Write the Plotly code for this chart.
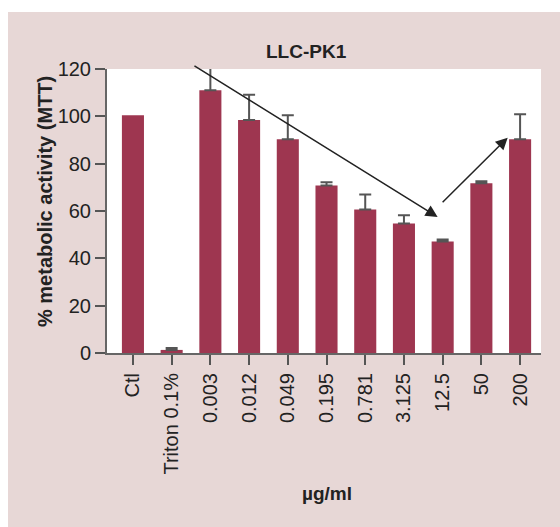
import plotly.graph_objects as go

# Concentrations tested (µg/ml) plus controls
categories = ["Ctl", "Triton 0.1%", "0.003", "0.012", "0.049", "0.195",
              "0.781", "3.125", "12.5", "50", "200"]
# Mean % metabolic activity (MTT)
activity = [100.5, 1.3, 111, 98.4, 90.3, 70.8, 60.6, 54.7, 47.1, 71.7, 90.3]
# Upper error for every treated well (Ctl has none)
err_categories = categories[1:]
err_activity = activity[1:]
error_up = [0.8, 10, 10.7, 10.2, 1.4, 6.4, 3.5, 0.9, 0.9, 10.6]
y_ticks = [0, 20, 40, 60, 80, 100, 120]

# Trend arrows: (tail index, tail value, head index, head value)
arrows = [(1.55, 121.7, 7.87, 57.5), (7.96, 63.1, 9.68, 91.0)]

BAR = "#9e3650"
PANEL = "#e7d7d6"
FONT = "Liberation Sans, Arial, sans-serif"

L, R, T, B = 107, 19, 69, 174
W, H = 560, 527
pw, ph = W - L - R, H - T - B

fig = go.Figure()
fig.add_trace(go.Bar(
    x=categories, y=activity, width=0.57,
    marker=dict(color=BAR, line=dict(width=0)),
))
fig.add_trace(go.Scatter(
    x=err_categories, y=err_activity, mode="markers",
    marker=dict(size=1, opacity=0),
    error_y=dict(type="data", array=error_up, symmetric=False,
                 arrayminus=[0] * len(error_up),
                 color="#555555", thickness=2, width=6),
))

annotations = []
for ax0, ay0, hx, hy in arrows:
    annotations.append(dict(
        x=hx, y=hy, ax=ax0, ay=ay0, xref="x", yref="y", axref="x", ayref="y",
        text="", showarrow=True, arrowhead=2, arrowsize=1.6, arrowwidth=1.5,
        arrowcolor="#222222"))

annotations += [
    dict(text="<b>LLC-PK1</b>", xref="paper", yref="paper",
         x=(306 - L) / pw, y=1 + (T - 52) / ph, xanchor="center",
         yanchor="middle", showarrow=False,
         font=dict(size=19, color="#222222")),
    dict(text="<b>% metabolic activity (MTT)</b>", xref="paper", yref="paper",
         x=(45 - L) / pw, y=(353 - 202) / ph, xanchor="center",
         yanchor="middle", textangle=-90, showarrow=False,
         font=dict(size=20, color="#222222")),
    dict(text="<b>µg/ml</b>", xref="paper", yref="paper",
         x=(327 - L) / pw, y=-(493 - 353) / ph, xanchor="center",
         yanchor="middle", showarrow=False,
         font=dict(size=19, color="#222222")),
]

# White strips around the shaded panel (top and left)
shapes = [
    dict(type="rect", xref="paper", yref="paper", x0=-L / pw, x1=1 + R / pw,
         y0=1 + (T - 12) / ph, y1=1 + T / ph, fillcolor="white",
         line=dict(width=0), layer="above"),
    dict(type="rect", xref="paper", yref="paper", x0=-L / pw, x1=-(L - 8) / pw,
         y0=-B / ph, y1=1 + T / ph, fillcolor="white",
         line=dict(width=0), layer="above"),
]

fig.update_layout(
    width=W, height=H, margin=dict(l=L, r=R, t=T, b=B),
    paper_bgcolor=PANEL, plot_bgcolor="white",
    font=dict(family=FONT, size=20, color="#222222"),
    showlegend=False, annotations=annotations, shapes=shapes,
    xaxis=dict(type="category", range=[-0.67, 10.54], tickangle=-90,
               showline=True, linecolor="#666666", linewidth=2,
               ticks="outside", ticklen=10, tickwidth=1.5, tickcolor="#555555",
               showgrid=False, zeroline=False, fixedrange=True),
    yaxis=dict(range=[0, 120], tickvals=y_ticks, showline=True,
               linecolor="#666666", linewidth=2, ticks="outside", ticklen=10,
               tickwidth=1.5, tickcolor="#555555", showgrid=False,
               zeroline=False),
)

fig.write_html("out.html")
